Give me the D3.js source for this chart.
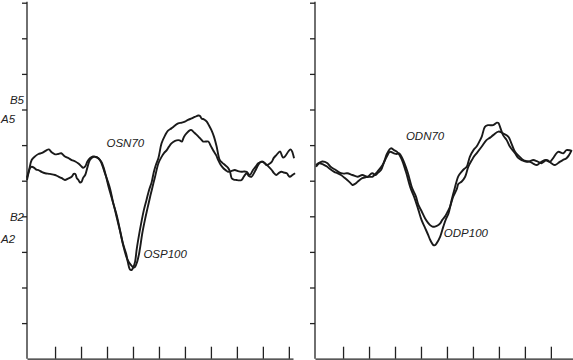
<!DOCTYPE html>
<html>
<head>
<meta charset="utf-8">
<script src="https://cdnjs.cloudflare.com/ajax/libs/d3/7.8.5/d3.min.js"></script>
<style>
  body { margin: 0; background: #fff; }
  text { font-family: "Liberation Sans", Arial, sans-serif; font-style: italic; font-size: 11.5px; fill: #222; }
</style>
</head>
<body>
<div id="chart"></div>
<script>
let width = 573,
    height = 360;

// time in ms, amplitude in arbitrary units (10 per y tick)
const osA = [[-4,0.8],[0,3.0],[5,5.8],[12,6.9],[18,7.5],[25,7.8],[34,8.6],[38,8.8],[44,7.9],[50,7.4],[56,7.5],[62,7.7],[69,6.8],[75,6.4],[82,5.8],[89,5.4],[95,4.8],[101,4.0],[104,3.6],[108,4.0],[112,5.3],[117,6.3],[123,6.8],[127,6.7],[133,6.4],[137,5.7],[142,3.9],[146,2.1],[152,-0.4],[156,-2.3],[162,-6.3],[169,-9.9],[175,-13.9],[181,-17.8],[187,-20.6],[190,-22.8],[194,-24.9],[197,-25.1],[200,-24.5],[204,-22.8],[207,-19.4],[210,-16.6],[217,-11.0],[221,-8.2],[226,-5.4],[231,-2.6],[236,-0.4],[240,2.4],[244,4.4],[249,6.4],[255,10.5],[262,12.8],[267,14.0],[274,14.7],[281,15.5],[287,16.1],[294,16.3],[300,16.6],[306,17.1],[313,17.5],[319,17.9],[326,18.3],[329,18.2],[332,17.5],[337,17.2],[342,16.6],[346,15.6],[351,14.2],[356,12.3],[361,9.6],[367,5.8],[372,5.0],[377,4.4],[383,3.6],[387,2.4],[390,0.7],[394,0.3],[399,0.2],[404,0.1],[409,0.2],[414,1.3],[419,2.1],[423,1.3],[428,1.1],[435,2.7],[441,4.4],[446,5.3],[451,5.3],[457,4.4],[462,4.7],[467,5.3],[471,6.4],[476,7.2],[483,8.2],[487,6.9],[489,6.5],[492,6.7],[499,8.2],[503,8.8],[506,8.3],[510,6.3]];

const osB = [[-4,0.2],[-1,2.2],[2,3.6],[5,3.9],[10,3.6],[14,3.1],[18,3.0],[25,2.4],[31,2.1],[40,1.9],[50,1.6],[56,1.2],[63,0.7],[69,0.2],[75,0.6],[82,1.1],[86,1.9],[89,1.9],[92,0.7],[95,0.2],[98,-0.5],[101,-0.3],[104,0.8],[108,1.6],[112,3.6],[117,5.8],[124,6.7],[129,6.7],[133,6.3],[139,5.3],[143,3.9],[148,1.3],[153,-1.7],[158,-4.3],[164,-7.4],[169,-10.5],[175,-14.1],[181,-18.1],[188,-21.7],[191,-22.6],[194,-23.3],[198,-24.0],[201,-24.4],[204,-24.2],[208,-22.8],[212,-20.3],[214,-18.5],[218,-14.7],[223,-11.0],[228,-7.7],[233,-4.5],[237,-2.1],[239,-0.9],[242,0.8],[249,4.9],[255,6.7],[260,7.8],[265,8.6],[269,9.5],[274,10.5],[281,11.2],[287,11.4],[290,11.3],[294,11.0],[298,12.3],[303,13.3],[310,14.2],[313,14.2],[316,13.8],[321,13.1],[326,12.4],[331,11.6],[335,11.0],[340,11.0],[345,11.0],[350,9.7],[354,8.6],[360,7.2],[364,5.8],[369,4.4],[374,3.5],[379,2.9],[383,2.5],[389,2.7],[396,3.0],[402,2.7],[409,2.5],[414,2.6],[419,2.5],[425,1.6],[431,3.0],[437,4.1],[441,4.9],[448,5.3],[454,4.9],[460,4.1],[467,3.0],[471,2.2],[476,1.6],[481,2.2],[486,2.5],[490,2.3],[496,2.1],[499,1.5],[502,1.1],[507,1.6],[512,2.1]];

const odA = [[-2,4.4],[4,5.0],[10,5.4],[15,5.3],[20,4.9],[26,3.9],[36,3.0],[46,2.1],[52,2.0],[58,2.1],[68,1.6],[78,1.1],[87,1.6],[97,1.1],[106,2.1],[113,1.6],[117,2.2],[123,3.0],[129,5.3],[135,7.7],[142,9.1],[148,8.6],[154,8.1],[162,6.3],[171,2.5],[180,-2.1],[187,-4.6],[195,-8.2],[201,-11.0],[208,-13.3],[214,-15.3],[217,-16.4],[224,-18.1],[227,-18.1],[230,-17.6],[237,-15.7],[243,-12.9],[248,-10.8],[253,-9.2],[259,-5.4],[265,-2.1],[272,1.3],[278,2.5],[283,3.3],[288,3.9],[294,6.7],[301,8.6],[307,9.6],[312,10.9],[317,12.4],[323,15.1],[329,15.6],[339,15.6],[346,16.3],[349,16.2],[352,15.2],[358,12.8],[365,11.4],[371,9.6],[381,7.7],[387,6.4],[394,5.8],[403,5.3],[410,5.5],[416,5.8],[423,5.5],[432,4.9],[442,5.8],[451,4.9],[458,4.4],[467,5.3],[473,5.8],[480,6.3],[485,7.2],[490,8.6]];

const odB = [[-2,3.9],[4,4.9],[9,4.7],[14,4.4],[19,4.0],[23,3.5],[33,2.5],[39,2.1],[46,1.6],[52,0.9],[58,0.2],[64,-0.6],[68,-1.2],[73,-0.9],[78,-0.3],[87,0.7],[94,1.0],[100,1.1],[106,1.1],[111,1.7],[116,2.5],[126,4.4],[134,6.7],[140,8.1],[148,7.7],[153,7.5],[158,7.7],[164,6.3],[174,2.5],[183,-2.1],[190,-4.3],[195,-6.8],[201,-8.5],[208,-10.6],[214,-11.9],[217,-12.4],[222,-12.9],[227,-12.9],[232,-12.6],[237,-12.0],[241,-11.0],[246,-10.1],[251,-8.8],[256,-7.3],[262,-4.5],[269,-2.3],[272,-0.9],[278,-0.3],[285,1.1],[291,3.9],[298,5.8],[302,6.8],[307,7.7],[317,9.6],[326,11.4],[333,12.1],[339,12.8],[349,13.8],[358,13.3],[368,12.4],[374,10.5],[381,8.1],[390,6.7],[397,5.8],[404,5.5],[410,5.3],[416,4.8],[423,4.4],[429,5.0],[432,5.3],[439,5.8],[448,5.3],[454,6.3],[464,8.1],[474,7.7],[480,8.6],[490,8.4]];

const yTicks = [-40, -30, -20, -10, 0, 10, 20, 30, 40, 50];
const xTicks = [50, 100, 150, 200, 250, 300, 350, 400, 450, 500];

// peak labels: [text, t, v]
const osLabels = [["OSN70", 149, 9.5], ["OSP100", 220, -21.6]];
const odLabels = [["ODN70", 171, 11.4], ["ODP100", 244, -15.8]];

// channel labels on left axis: [text, v, anchor]
const chanLabels = [["B5", 21.5, "end"], ["A5", 16.1, "start"], ["B2", -11.3, "end"], ["A2", -17.5, "start"]];

const svg = d3.select("#chart").append("svg")
    .attr("width", width)
    .attr("height", height);

const y = d3.scaleLinear().domain([50, -50]).range([2.7, 358.7]);

function panel(left, series, labels) {
  const x = d3.scaleLinear().domain([-4, 508]).range([left, left + 266]);
  const g = svg.append("g");

  g.append("g")
      .attr("transform", "translate(" + left + ",0)")
      .call(d3.axisLeft(y).tickValues(yTicks).tickSize(5).tickSizeOuter(0).tickFormat(""))
      .call(a => a.select(".domain").attr("d", "M0," + (y.range()[0] - 1) + "V" + y.range()[1]));

  g.append("g")
      .attr("transform", "translate(0," + y(-50) + ")")
      .call(d3.axisBottom(x).tickValues(xTicks).tickSize(-12).tickSizeOuter(0).tickFormat(""));

  g.selectAll(".domain, .tick line")
      .attr("stroke", "#222")
      .attr("stroke-width", 1.3);

  const line = d3.line()
      .x(d => x(d[0]))
      .y(d => y(d[1]))
      .curve(d3.curveCatmullRom.alpha(0.5));

  g.selectAll(".trace")
      .data(series)
      .enter().append("path")
      .attr("class", "trace")
      .attr("d", line)
      .attr("fill", "none")
      .attr("stroke", "#1a1a1a")
      .attr("stroke-width", 1.9)
      .attr("stroke-linejoin", "round");

  g.selectAll(".peak")
      .data(labels)
      .enter().append("text")
      .attr("class", "peak")
      .attr("x", d => x(d[1]))
      .attr("y", d => y(d[2]))
      .text(d => d[0]);
}

panel(27, [osA, osB], osLabels);
panel(315, [odA, odB], odLabels);

svg.selectAll(".chan")
    .data(chanLabels)
    .enter().append("text")
    .attr("class", "chan")
    .attr("x", d => d[2] === "end" ? 24 : 1)
    .attr("y", d => y(d[1]))
    .attr("text-anchor", d => d[2])
    .text(d => d[0]);
</script>
</body>
</html>
